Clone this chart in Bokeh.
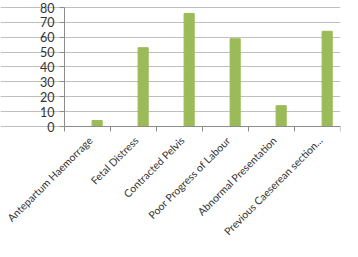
import math
from bokeh.plotting import figure
from bokeh.models import FixedTicker, Range1d, ColumnDataSource, LabelSet
from bokeh.core.properties import value
from bokeh.embed import file_html
from bokeh.resources import INLINE

categories = ["Antepartum Haemorrage", "Fetal Distress", "Contracted Pelvis",
              "Poor Progress of Labour", "Abnormal Presentation", "Previous Caeserean section..."]
values = [4, 53, 76, 59, 14, 64]
y_ticks = [0, 10, 20, 30, 40, 50, 60, 70, 80]

n = len(categories)
centers = [i + 0.5 for i in range(n)]
bar_x = [c + 0.21 for c in centers]
src = ColumnDataSource(dict(x=bar_x, top=values))
lab_src = ColumnDataSource(dict(x=centers, y=[0] * n, text=categories))

# the frame extends beyond the axes so that tick and category labels fit inside it
p = figure(width=342, height=241, output_backend="svg", toolbar_location=None,
           x_range=Range1d(-1.391, n), y_range=Range1d(-77.3, 84.7),
           min_border_left=0, min_border_right=2, min_border_top=0, min_border_bottom=0)
p.outline_line_color = None
p.background_fill_color = "white"
p.border_fill_color = "white"

p.xgrid.grid_line_color = None
p.ygrid.ticker = FixedTicker(ticks=y_ticks)
p.ygrid.bounds = (0, n)
p.ygrid.grid_line_color = "#BFBFBF"
p.ygrid.grid_line_width = 1

p.vbar(x="x", top="top", bottom=0, width=0.22, source=src,
       fill_color="#9BBB59", line_color="#9BBB59")

FONT = "Lato"
p.yaxis.fixed_location = 0
p.yaxis.ticker = FixedTicker(ticks=y_ticks)
p.yaxis.bounds = (0, 80)
p.yaxis.axis_line_color = "#8C8C8C"
p.yaxis.major_tick_line_color = "#8C8C8C"
p.yaxis.major_tick_in = 0
p.yaxis.major_tick_out = 5
p.yaxis.minor_tick_line_color = None
p.yaxis.major_label_text_font = FONT
p.yaxis.major_label_text_font_size = "12.5px"
p.yaxis.major_label_text_color = "#333333"
p.yaxis.major_label_standoff = 5

p.xaxis.fixed_location = 0
p.xaxis.bounds = (0, n)
p.xaxis.ticker = FixedTicker(ticks=centers, minor_ticks=list(range(n + 1)))
p.xaxis.major_label_overrides = {c: "" for c in centers}
p.xaxis.major_label_text_font_size = "1px"
p.xaxis.axis_line_color = "#8C8C8C"
p.xaxis.major_tick_line_color = None
p.xaxis.minor_tick_line_color = "#8C8C8C"
p.xaxis.minor_tick_in = 0
p.xaxis.minor_tick_out = 5

labels = LabelSet(x="x", y="y", text="text", source=lab_src, angle=math.pi / 4,
                  text_align="right", text_baseline="middle",
                  x_offset=3, y_offset=-12,
                  text_font=value(FONT), text_font_size=value("10.5px"),
                  text_color=value("#333333"))
p.add_layout(labels)

open("out.html", "w").write(file_html(p, INLINE))
